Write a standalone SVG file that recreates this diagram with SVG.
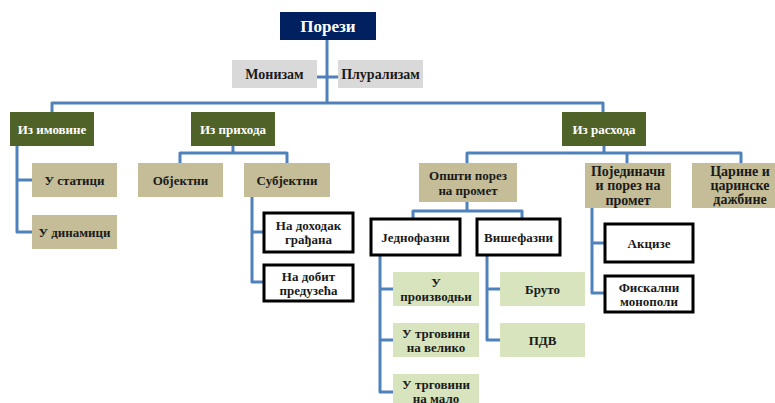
<svg xmlns="http://www.w3.org/2000/svg" width="775" height="403" viewBox="0 0 775 403" font-family="Liberation Serif" font-weight="bold" font-size="13">
<style>
svg text{font-family:'Liberation Serif',serif;font-weight:bold;text-anchor:middle;dominant-baseline:central;fill:#1a1a1a}
.navy{fill:#002060}
.olive{fill:#4f6228}
.tan{fill:#c4bd97}
.grn{fill:#d7e4bd}
.gray{fill:#d9d9d9}
.blk{fill:#fff;stroke:#000;stroke-width:3}
svg text.w{fill:#fff}
.conn path{fill:none;stroke:#4f81bd;stroke-width:3;stroke-linejoin:round}
</style>
<rect width="775" height="403" fill="#fff"/>
<g class="conn" id="connectors">
<path d="M327,40 V103"/>
<path d="M52,112 V103 H603 V112"/>
<path d="M317,77 H338"/>
<path d="M17,146 V232 H32 M17,180 H32"/>
<path d="M233,146 V153 M180,163 V153 H287 V163"/>
<path d="M252,197 V282 H263 M252,232 H263"/>
<path d="M604,146 V153 M467,163 V153 H741 V163 M627,153 V163"/>
<path d="M467,202 V211 M413,218 V211 H522 V218"/>
<path d="M380,255 V392 H393 M380,289 H393 M380,340 H393"/>
<path d="M487,255 V340 H500 M487,289 H500"/>
<path d="M592,208 V293 H604 M592,243 H604"/>
</g>
<g id="porezi"><rect class="navy" x="280" y="12" width="96" height="28"/><text class="w" x="328" y="26" font-size="17">Порези</text></g>
<g id="monizam"><rect class="gray" x="232" y="60" width="85" height="28"/><text x="274.5" y="74" font-size="14">Монизам</text></g>
<g id="pluralizam"><rect class="gray" x="338" y="60" width="85" height="28"/><text x="380.5" y="74" font-size="14">Плурализам</text></g>
<g id="iz-imovine"><rect class="olive" x="10" y="112" width="84" height="34"/><text class="w" x="52" y="129">Из имовине</text></g>
<g id="iz-prihoda"><rect class="olive" x="191" y="112" width="84" height="34"/><text class="w" x="233" y="129">Из прихода</text></g>
<g id="iz-rashoda"><rect class="olive" x="562" y="112" width="84" height="34"/><text class="w" x="604" y="129">Из расхода</text></g>
<g id="u-statici"><rect class="tan" x="32" y="163" width="85" height="34"/><text x="74.5" y="180">У статици</text></g>
<g id="u-dinamici"><rect class="tan" x="32" y="215" width="85" height="34"/><text x="74.5" y="232">У динамици</text></g>
<g id="objektni"><rect class="tan" x="138" y="163" width="85" height="34"/><text x="180.5" y="180">Објектни</text></g>
<g id="subjektni"><rect class="tan" x="244" y="163" width="86" height="34"/><text x="287" y="180">Субјектни</text></g>
<g id="na-dohodak"><rect class="blk" x="264" y="213" width="89" height="39"/><text x="308.5" y="225.5">На доходак</text><text x="308.5" y="239.5">грађана</text></g>
<g id="na-dobit"><rect class="blk" x="264" y="265" width="89" height="36"/><text x="308.5" y="276.5">На добит</text><text x="308.5" y="290.5">предузећа</text></g>
<g id="opsti"><rect class="tan" x="419" y="163" width="98" height="39"/><text x="468" y="175.5">Општи порез</text><text x="468" y="190.5">на промет</text></g>
<g id="pojedinacni"><rect class="tan" x="585" y="163" width="86" height="45"/><text x="628" y="171" font-size="14">Појединачн</text><text x="628" y="185.5" font-size="14">и порез на</text><text x="628" y="200" font-size="14">промет</text></g>
<g id="carine"><rect class="tan" x="692" y="163" width="96" height="45"/><text x="740" y="171.5" font-size="14">Царине и</text><text x="740" y="185.5" font-size="14">царинске</text><text x="740" y="199.5" font-size="14">дажбине</text></g>
<g id="jednofazni"><rect class="blk" x="371" y="219" width="89" height="36"/><text x="415.5" y="237">Једнофазни</text></g>
<g id="visefazni"><rect class="blk" x="477" y="219" width="83" height="36"/><text x="518.5" y="237">Вишефазни</text></g>
<g id="u-proizvodnji"><rect class="grn" x="393" y="272" width="86" height="34"/><text x="436" y="282">У</text><text x="436" y="296">производњи</text></g>
<g id="u-veliko"><rect class="grn" x="393" y="323" width="86" height="34"/><text x="436" y="333">У трговини</text><text x="436" y="347">на велико</text></g>
<g id="u-malo"><rect class="grn" x="393" y="374" width="86" height="34"/><text x="436" y="384">У трговини</text><text x="436" y="398">на мало</text></g>
<g id="bruto"><rect class="grn" x="500" y="272" width="85" height="34"/><text x="542.5" y="289">Бруто</text></g>
<g id="pdv"><rect class="grn" x="500" y="323" width="85" height="34"/><text x="542.5" y="340">ПДВ</text></g>
<g id="akcize"><rect class="blk" x="605" y="224" width="88" height="38"/><text x="649" y="243">Акцизе</text></g>
<g id="fiskalni"><rect class="blk" x="605" y="276" width="88" height="36"/><text x="649" y="287.5">Фискални</text><text x="649" y="301">монополи</text></g>
</svg>
